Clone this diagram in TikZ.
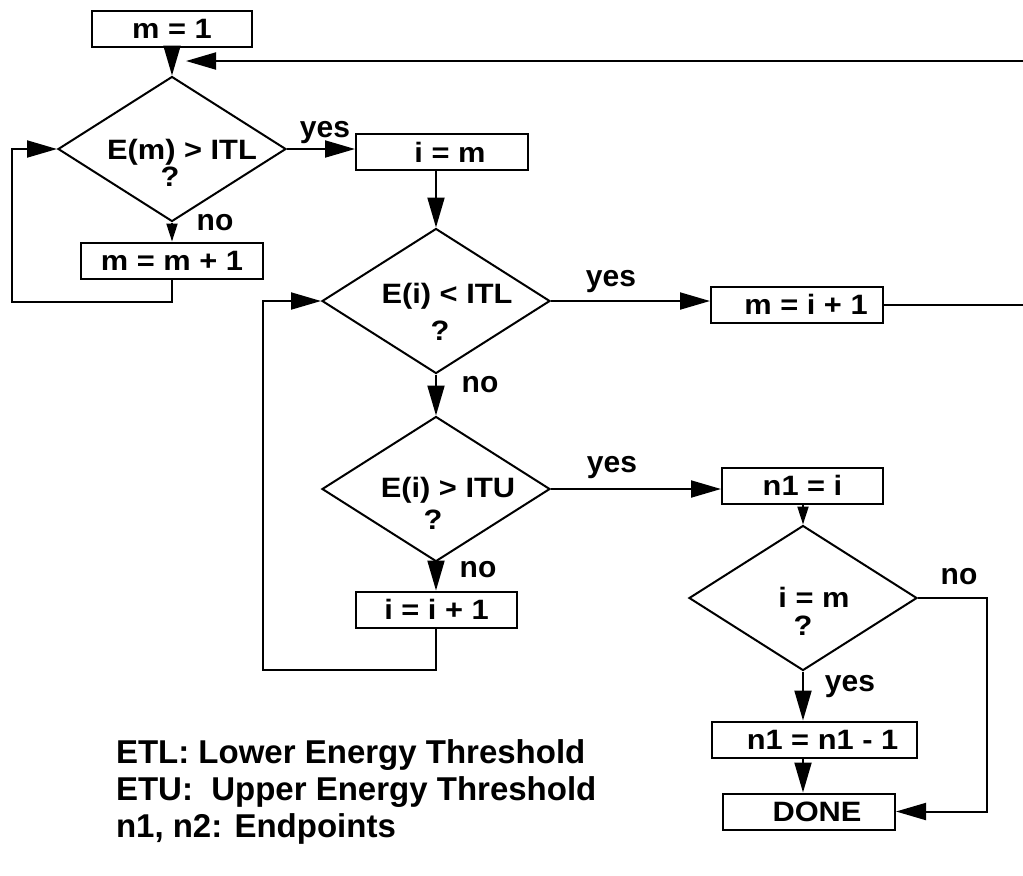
\documentclass[tikz,border=0pt]{standalone}
\usepackage{fontspec}
\setmainfont{Liberation Sans}
\newfontfamily\boxfont[FakeStretch=1.1]{Liberation Sans}
\usetikzlibrary{arrows.meta,shapes.geometric,calc}

\begin{document}
\begin{tikzpicture}[
    x=0.5pt, y=-0.5pt, line width=1pt,
    box/.style={rectangle, draw, minimum height=18pt, inner sep=0pt, font=\boxfont\bfseries\fontsize{14pt}{16pt}\selectfont},
    dec/.style={diamond, draw, minimum width=114pt, minimum height=72.5pt, inner sep=0pt},
    qtxt/.style={inner sep=0pt, font=\boxfont\bfseries\fontsize{14pt}{16pt}\selectfont},
    lbl/.style={inner sep=0pt, font=\bfseries\fontsize{15pt}{17pt}\selectfont},
    note/.style={anchor=base west, inner sep=0pt, font=\bfseries\fontsize{16.5pt}{19pt}\selectfont},
    arr/.style={-{Triangle[length=15pt, width=8.5pt]}},
    sarr/.style={-{Triangle[length=9pt, width=5.5pt]}}
  ]
    \clip (0,0) rectangle (1023,875);

    % boxes
    \node[box, minimum width=80pt] (b1) at (172,28.5) {m = 1};
    \node[box, minimum width=91pt] (b2) at (172,260.5) {m = m + 1};
    \node[box, minimum width=86pt] (b3) at (442,152) {\hspace*{8pt}i = m};
    \node[box, minimum width=86pt] (b4) at (797,304.5) {\hspace*{9pt}m = i + 1};
    \node[box, minimum width=80.5pt] (b5) at (436.5,609.5) {i = i + 1};
    \node[box, minimum width=80.5pt] (b6) at (802.5,485.5) {n1 = i};
    \node[box, minimum width=102.5pt] (b7) at (814.5,739.5) {\hspace*{8pt}n1 = n1 - 1};
    \node[box, minimum width=86pt] (b8) at (809,811.5) {\hspace*{8pt}DONE};

    % decisions
    \node[dec] (d1) at (172,149) {};
    \node[dec] (d2) at (436,301) {};
    \node[dec] (d3) at (436,489) {};
    \node[dec] (d4) at (803,598) {};
    \node[qtxt] (t1) at (182,152) {E(m) > ITL};
    \node[qtxt] (q1) at (170,177) {?};
    \node[qtxt] (t2) at (447,296) {E(i) < ITL};
    \node[qtxt] (q2) at (440,331) {?};
    \node[qtxt] (t3) at (448,490) {E(i) > ITU};
    \node[qtxt] (q3) at (433,520) {?};
    \node[qtxt] (t4) at (814,597) {i = m};
    \node[qtxt] (q4) at (803,626) {?};

    \coordinate (ret) at (186,61);

    % connectors
    \draw[arr] (b1) -- (d1.north);
    \draw[arr] (b4.east) -- ++(170,0) |- (ret);
    \draw[arr] (d1.east) -- (d1.east -| b3.west);
    \draw[sarr] (d1.south) -- (b2.north);
    \draw[arr] (b2.south) -- ++(0,22) -- ++(-160,0) |- (d1.west);
    \draw[arr] (d2.north |- b3.south) -- (d2.north);
    \draw[arr] (d2.east) -- (d2.east -| b4.west);
    \draw[arr] (d2.south) -- (d3.north);
    \draw[arr] (d3.east) -- (d3.east -| b6.west);
    \draw[arr] (d3.south) -- (d3.south |- b5.north);
    \draw[arr] (d3.south |- b5.south) -- ++(0,41) -- ++(-173,0) |- (d2.west);
    \draw[sarr] (d4.north |- b6.south) -- (d4.north);
    \draw[arr] (d4.south) -- (d4.south |- b7.north);
    \draw[arr] (d4.south |- b7.south) -- (d4.south |- b8.north);
    \draw[arr] (d4.east) -- ++(69,0) |- (b8.east);

    % branch labels
    \node[lbl] (y1) at (325,133) {yes};
    \node[lbl] (n1) at (215,223) {no};
    \node[lbl] (y2) at (611,282) {yes};
    \node[lbl] (n2) at (480,385) {no};
    \node[lbl] (y3) at (612,468) {yes};
    \node[lbl] (n3) at (478,570) {no};
    \node[lbl] (n4) at (959,577) {no};
    \node[lbl] (y4) at (850,687) {yes};

    % legend
    \node[note] (e1) at (115,763) {ETL: Lower Energy Threshold};
    \node[note] (e2) at (115,800) {ETU:\ \ Upper Energy Threshold};
    \node[note] (e3) at (115,837) {n1, n2: Endpoints};
\end{tikzpicture}
\end{document}
